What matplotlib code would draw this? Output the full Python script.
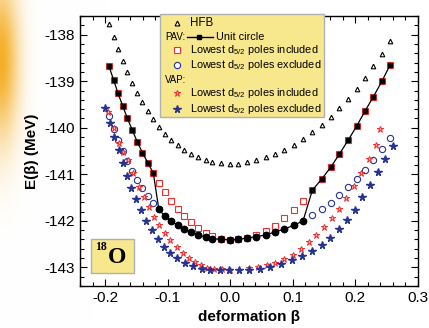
import numpy as np
import matplotlib
matplotlib.use('Agg')
import matplotlib.pyplot as plt
from matplotlib.patches import Rectangle
from matplotlib.lines import Line2D

plt.rcParams['font.family'] = ['Liberation Sans', 'DejaVu Sans']
plt.rcParams['mathtext.default'] = 'regular'

# PAV / HFB deformation grid
beta_pav = [-0.1936, -0.1861, -0.1792, -0.1717, -0.1642, -0.1563, -0.1488, -0.1403, -0.1317, -0.1229,
            -0.1141, -0.1045, -0.0944, -0.0840, -0.0733, -0.0621, -0.0507, -0.0395, -0.0288, -0.0149,
            -0.0011, 0.0128, 0.0267, 0.0416, 0.0565, 0.0715, 0.0864, 0.1013, 0.1163,
            0.1312, 0.1461, 0.1611, 0.1744, 0.1883, 0.2021, 0.2155, 0.2288, 0.2427, 0.2555]

e_hfb = [-137.763, -138.039, -138.308, -138.571, -138.812, -139.039, -139.256, -139.448, -139.644, -139.817,
         -139.989, -140.138, -140.263, -140.377, -140.478, -140.560, -140.636, -140.690, -140.731, -140.765,
         -140.780, -140.774, -140.744, -140.694, -140.636, -140.565, -140.478, -140.364, -140.241,
         -140.091, -139.933, -139.761, -139.584, -139.386, -139.164, -138.933, -138.683, -138.409, -138.140]

e_unit = [-138.683, -138.981, -139.261, -139.534, -139.800, -140.054, -140.295, -140.532, -140.752, -140.974,
          -141.750, -141.901, -142.002, -142.095, -142.175, -142.246, -142.300, -142.349, -142.382, -142.397,
          -142.403, -142.397, -142.371, -142.338, -142.304, -142.239, -142.177, -142.095, -142.002,
          -141.341, -141.103, -140.838, -140.565, -140.269, -139.961, -139.638, -139.330, -138.991, -138.647]

e_incl = [-138.683, -138.981, -139.261, -139.534, -139.800, -140.054, -140.295, -140.532, -140.752, -140.974,
          -141.179, -141.384, -141.567, -141.735, -141.894, -142.030, -142.159, -142.252, -142.325, -142.386,
          -142.403, -142.390, -142.360, -142.310, -142.213, -142.106, -141.948, -141.767, -141.571,
          -141.341, -141.103, -140.838, -140.565, -140.269, -139.961, -139.638, -139.330, -138.991, -138.647]

e_excl = [-139.746, -140.026, -140.263, -140.500, -140.716, -140.920, -141.125, -141.304, -141.476, -141.614,
          -141.750, -141.901, -142.002, -142.095, -142.175, -142.246, -142.300, -142.349, -142.382, -142.397,
          -142.403, -142.397, -142.371, -142.338, -142.304, -142.239, -142.177, -142.095, -142.002,
          -141.879, -141.750, -141.614, -141.455, -141.282, -141.103, -140.903, -140.694, -140.450, -140.209]

# VAP, lowest d5/2 poles included
beta_vap_in = [-0.1957, -0.1864, -0.1784, -0.1709, -0.1629, -0.1552, -0.1464, -0.1384, -0.1304, -0.1224,
               -0.1136, -0.1045, -0.0960, -0.0856, -0.0755, -0.0656, -0.0560, -0.0464, -0.0368, -0.0256,
               -0.0136, -0.0008, 0.0136, 0.0293, 0.0437, 0.0584, 0.0720, 0.0853, 0.0995, 0.1125,
               0.1259, 0.1376, 0.1504, 0.1624, 0.1744, 0.1853, 0.1973, 0.2091, 0.2213, 0.2331, 0.2389]
e_vap_in = [-139.666, -140.004, -140.321, -140.511, -140.698, -140.974, -141.265, -141.485, -141.700, -141.916,
            -142.095, -142.263, -142.422, -142.569, -142.688, -142.795, -142.881, -142.946, -143.006, -143.032,
            -143.043, -143.050, -143.047, -143.015, -143.000, -142.957, -142.897, -142.817, -142.724, -142.606,
            -142.455, -142.306, -142.131, -141.948, -141.735, -141.506, -141.259, -140.981, -140.679, -140.360, -140.032]

# VAP, lowest d5/2 poles excluded
beta_vap_ex = [-0.1995, -0.1925, -0.1856, -0.1784, -0.1717, -0.1653, -0.1579, -0.1504, -0.1427, -0.1342,
               -0.1251, -0.1157, -0.1061, -0.0955, -0.0843, -0.0717, -0.0592, -0.0456, -0.0331, -0.0168,
               -0.0016, 0.0144, 0.0304, 0.0472, 0.0640, 0.0813, 0.0979, 0.1152, 0.1312, 0.1459,
               0.1600, 0.1733, 0.1861, 0.1987, 0.2112, 0.2240, 0.2366, 0.2480, 0.2597]
e_vap_ex = [-139.584, -139.903, -140.192, -140.483, -140.752, -141.032, -141.287, -141.534, -141.772, -141.994,
            -142.203, -142.390, -142.554, -142.694, -142.802, -142.909, -142.978, -143.026, -143.050, -143.060,
            -143.065, -143.065, -143.058, -143.028, -142.989, -142.925, -142.849, -142.759, -142.644, -142.519,
            -142.360, -142.185, -141.976, -141.756, -141.498, -141.233, -140.959, -140.679, -140.392]

RED = '#f03030'
BLUE = '#27338f'
YELLOW = '#f7e88e'

fig = plt.figure(figsize=(4.29, 3.28), dpi=100)

# orange glow in the left margin
bg = fig.add_axes([0, 0, 1, 1], zorder=-10)
bg.axis('off')
yy, xx = np.mgrid[0:328, 0:429]
w = np.exp(-((xx / 18.0) ** 2) - ((yy - 60) / 80.0) ** 2)
img = np.ones((328, 429, 3))
orange = np.array([0.96, 0.68, 0.15])
for c in range(3):
    img[:, :, c] = 1 - w * (1 - orange[c])
bg.imshow(img, aspect='auto', extent=[0, 1, 0, 1], origin='upper')
bg.set_xlim(0, 1)
bg.set_ylim(0, 1)

ax = fig.add_axes([0.1865, 0.128, 0.7879, 0.823])
ax.set_facecolor('white')

b = np.array(beta_pav)
outer = np.abs(b) > 0.12

ax.plot(beta_pav, e_hfb, ls='none', marker='^', ms=3.3, mfc='white', mec='black', mew=0.8, zorder=3)
ax.plot(beta_pav, e_incl, ls='none', marker='s', ms=4.3, mfc='white', mec=RED, mew=0.8, zorder=3)
ax.plot(beta_pav, e_excl, ls='none', marker='o', ms=4.5, mfc='white', mec=BLUE, mew=0.8, zorder=3)
ax.plot(beta_pav, e_unit, color='black', lw=0.9, zorder=4)
eu = np.array(e_unit)
ax.plot(b[outer], eu[outer], ls='none', marker='s', ms=3.2, color='black', zorder=5)
ax.plot(b[~outer], eu[~outer], ls='none', marker='o', ms=4.5, color='black', zorder=5)
ax.plot(beta_vap_in, e_vap_in, ls='none', marker='*', ms=5, mfc='#ffb0b0', mec=RED, mew=0.7, zorder=6)
ax.plot(beta_vap_ex, e_vap_ex, ls='none', marker='*', ms=5.3, color=BLUE, zorder=6)

ax.set_xlim(-0.24, 0.3)
ax.set_ylim(-143.4, -137.6)
ax.set_xticks([-0.2, -0.1, 0.0, 0.1, 0.2, 0.3])
ax.set_xticklabels(['-0.2', '-0.1', '0.0', '0.1', '0.2', '0.3'])
ax.set_xticks(np.arange(-0.24, 0.301, 0.02), minor=True)
ax.set_yticks([-143, -142, -141, -140, -139, -138])
ax.set_yticklabels(['-143', '-142', '-141', '-140', '-139', '-138'])
ax.set_yticks(np.arange(-143.4, -137.59, 0.2), minor=True)
ax.tick_params(which='both', direction='in', top=True, right=True, labelsize=11, width=0.8)
ax.tick_params(which='major', length=5)
ax.tick_params(which='minor', length=3)
for s in ax.spines.values():
    s.set_linewidth(1)

ax.set_xlabel('deformation β', fontsize=11, fontweight='bold', labelpad=4)
ax.set_ylabel('E(β) (MeV)', fontsize=11, fontweight='bold', labelpad=4)

# legend box drawn by hand
ax.add_patch(Rectangle((0.237, 0.626), 0.485, 0.381, transform=ax.transAxes, facecolor=YELLOW,
                       edgecolor='#b0b0b0', lw=1, zorder=8, clip_on=False))
fs = 7.8
rows = [0.975, 0.921, 0.876, 0.818, 0.763, 0.714, 0.655]
mx = 0.286
tx = 0.326
def lg_marker(y, **kw):
    ax.add_line(Line2D([mx], [y], transform=ax.transAxes, ls='none', zorder=9, clip_on=False, **kw))
lg_marker(rows[0], marker='^', ms=3.5, mfc='white', mec='black', mew=0.8)
ax.text(tx, rows[0], 'HFB', transform=ax.transAxes, fontsize=fs + 0.5, va='center', zorder=9)
ax.text(0.251, rows[1], 'PAV:', transform=ax.transAxes, fontsize=fs - 0.8, va='center', zorder=9)
ax.add_line(Line2D([0.316, 0.393], [rows[1], rows[1]], transform=ax.transAxes, color='black', lw=1, zorder=9))
ax.add_line(Line2D([0.353], [rows[1]], transform=ax.transAxes, marker='s', ms=3.2, color='black', zorder=9))
ax.text(0.402, rows[1], 'Unit circle', transform=ax.transAxes, fontsize=fs, va='center', zorder=9)
lg_marker(rows[2], marker='s', ms=4.2, mfc='white', mec=RED, mew=0.8)
ax.text(tx, rows[2], 'Lowest d$_{5/2}$ poles included', transform=ax.transAxes, fontsize=fs, va='center', zorder=9)
lg_marker(rows[3], marker='o', ms=4.5, mfc='white', mec=BLUE, mew=0.8)
ax.text(tx, rows[3], 'Lowest d$_{5/2}$ poles excluded', transform=ax.transAxes, fontsize=fs, va='center', zorder=9)
ax.text(0.251, rows[4], 'VAP:', transform=ax.transAxes, fontsize=fs - 0.8, va='center', zorder=9)
lg_marker(rows[5], marker='*', ms=5, mfc='#ffb0b0', mec=RED, mew=0.7)
ax.text(tx, rows[5], 'Lowest d$_{5/2}$ poles included', transform=ax.transAxes, fontsize=fs, va='center', zorder=9)
lg_marker(rows[6], marker='*', ms=5.3, color=BLUE)
ax.text(tx, rows[6], 'Lowest d$_{5/2}$ poles excluded', transform=ax.transAxes, fontsize=fs, va='center', zorder=9)

# nucleus label
ax.add_patch(Rectangle((0.0325, 0.048), 0.128, 0.126, transform=ax.transAxes, facecolor=YELLOW,
                       edgecolor='#b0b0b0', lw=1, zorder=8))
ax.text(0.078, 0.146, '18', transform=ax.transAxes, fontsize=8.5, fontweight='bold',
        family=['Liberation Serif', 'DejaVu Serif'], ha='right', va='center', zorder=9)
ax.text(0.082, 0.105, 'O', transform=ax.transAxes, fontsize=17, fontweight='bold',
        family=['Liberation Serif', 'DejaVu Serif'], ha='left', va='center', zorder=9)

fig.savefig('out.png', dpi=100)
